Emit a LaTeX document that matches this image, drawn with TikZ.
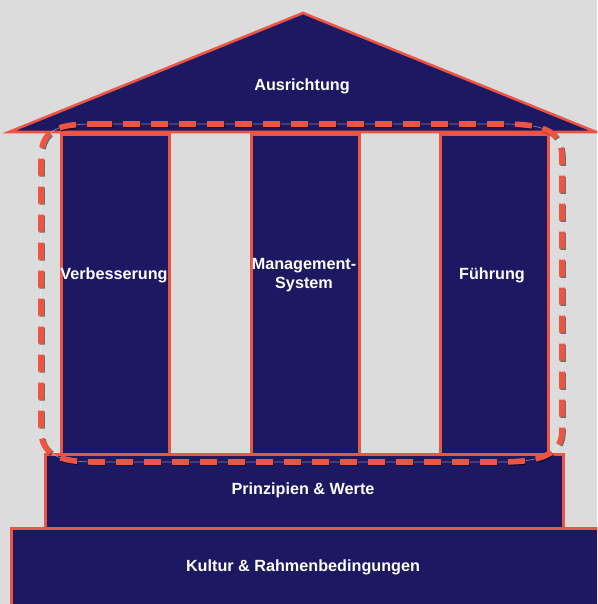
\documentclass[tikz,border=0pt]{standalone}
\usepackage{fontspec}
\setmainfont{Liberation Sans}
\begin{document}
\begin{tikzpicture}[x=1pt,y=-1pt,
  every node/.style={font=\fontsize{16.2}{19.5}\selectfont\bfseries, text=white, align=center},
  block/.style={draw=hred, fill=navy, line width=2.6pt, inner sep=0pt, anchor=north west},
  dashline/.style={draw=hred, line width=5.6pt, dash pattern=on 17pt off 11pt},
  dashshadow/.style={draw=black, opacity=0.5, line width=5.6pt, dash pattern=on 17pt off 11pt},
  thinline/.style={draw=white, opacity=0.45, line width=0.7pt}]
\definecolor{navy}{RGB}{29,24,98}
\definecolor{hred}{RGB}{238,84,68}
\definecolor{bg}{RGB}{219,220,219}
\useasboundingbox (0,0) rectangle (597,604);
\clip (0,0) rectangle (597,604);
\fill[bg] (0,0) rectangle (597,604);
% base
\node[block, minimum width=600pt, minimum height=90pt] (base) at (10,527) {};
\node (kultur) at (303,567) {Kultur \& Rahmenbedingungen};
% plinth
\node[block, minimum width=518pt, minimum height=74pt] (plinth) at (44,453) {};
\node (prinz) at (303,490) {Prinzipien \& Werte};
% columns
\node[block, minimum width=108pt, minimum height=320pt] (col1) at (60,133) {};
\node[block, minimum width=108pt, minimum height=320pt] (col2) at (250,133) {};
\node[block, minimum width=108pt, minimum height=320pt] (col3) at (439,133) {};
\node (verb) at (114,275) {Verbesserung};
\node (mgmt) at (304,275) {Management-\\System};
\node (fuehr) at (492,275) {Führung};
% roof
\draw[hred, fill=navy, line width=2.6pt, line join=miter] (9,132) -- (303,13) -- (596,132) -- cycle;
\node (ausr) at (302,86) {Ausrichtung};
% dashed frame
\def\framepath{(95,124) -- (500,124) .. controls (540,124) and (562,128) .. (562,158) -- (562,430) .. controls (562,455) and (540,462) .. (500,462) -- (95,462) .. controls (60,462) and (41,455) .. (41,430) -- (41,158) .. controls (41,128) and (60,124) .. (95,124) -- cycle}
\draw[thinline] \framepath;
\begin{scope}[shift={(1.1,1.1)}]
\draw[dashshadow] \framepath;
\end{scope}
\draw[dashline] \framepath;
\end{tikzpicture}
\end{document}
